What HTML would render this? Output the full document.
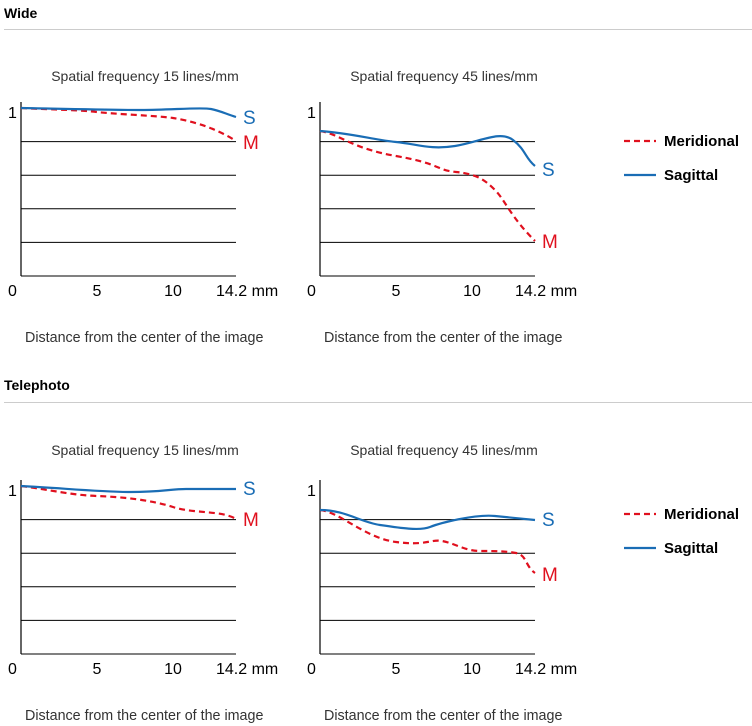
<!DOCTYPE html>
<html><head><style>
body{margin:0;background:#fff;}
svg{display:block;font-family:"Liberation Sans",Arial,sans-serif;}
</style></head><body>
<svg width="752" height="726" xmlns="http://www.w3.org/2000/svg">
<defs>
<g id="axes">
<line x1="0" y1="33.6" x2="215" y2="33.6" stroke="#000" stroke-width="1"/>
<line x1="0" y1="67.2" x2="215" y2="67.2" stroke="#000" stroke-width="1"/>
<line x1="0" y1="100.8" x2="215" y2="100.8" stroke="#000" stroke-width="1"/>
<line x1="0" y1="134.4" x2="215" y2="134.4" stroke="#000" stroke-width="1"/>
<line x1="0" y1="168" x2="215" y2="168" stroke="#000" stroke-width="1"/>
<line x1="0" y1="-6" x2="0" y2="168" stroke="#000" stroke-width="1.2"/>
<text x="-13" y="10" font-size="16">1</text>
<text x="-13" y="188" font-size="16">0</text>
<text x="76" y="188" font-size="16" text-anchor="middle">5</text>
<text x="152" y="188" font-size="16" text-anchor="middle">10</text>
<text x="195" y="188" font-size="16">14.2 mm</text>
<text x="4" y="234" font-size="14.3" fill="#333">Distance from the center of the image</text>
</g>
</defs>
<text x="4" y="18" font-size="14" font-weight="bold">Wide</text>
<line x1="4" y1="29.5" x2="752" y2="29.5" stroke="#ccc"/>
<text x="4" y="390" font-size="14" font-weight="bold">Telephoto</text>
<line x1="4" y1="402.5" x2="752" y2="402.5" stroke="#ccc"/>

<g font-size="14" fill="#333" text-anchor="middle">
<text x="145" y="81">Spatial frequency 15 lines/mm</text>
<text x="444" y="81">Spatial frequency 45 lines/mm</text>
<text x="145" y="455">Spatial frequency 15 lines/mm</text>
<text x="444" y="455">Spatial frequency 45 lines/mm</text>
</g>

<!-- Wide 15 -->
<g transform="translate(21,108)">
<use href="#axes"/>
<path d="M0,0 C40,2 60,2 76,4 S140,8 152,10 S190,17 215,33" fill="none" stroke="#e0101e" stroke-width="2.2" stroke-dasharray="6,4"/>
<path d="M0,0 C50,1 90,2 120,2 S180,-1 190,1 S205,6 215,9" fill="none" stroke="#1a6db5" stroke-width="2.2"/>
<text x="222" y="16" font-size="19" fill="#1a6db5">S</text>
<text x="222" y="41" font-size="19" fill="#e0101e">M</text>
</g>
<!-- Wide 45 -->
<g transform="translate(320,108)">
<use href="#axes"/>
<path d="M0,23 C20,26 30,40 76,48 S115,62 136,64 S165,72 175,82 S190,108 215,133" fill="none" stroke="#e0101e" stroke-width="2.2" stroke-dasharray="6,4"/>
<path d="M0,23 C30,25 55,32 76,34 S110,42 135,38 S180,22 193,32 S205,50 215,58" fill="none" stroke="#1a6db5" stroke-width="2.2"/>
<text x="222" y="68" font-size="19" fill="#1a6db5">S</text>
<text x="222" y="140" font-size="19" fill="#e0101e">M</text>
</g>
<!-- Tele 15 -->
<g transform="translate(21,486)">
<use href="#axes"/>
<path d="M0,0 C30,4 50,9 76,10 S130,14 152,21 S200,24 215,33" fill="none" stroke="#e0101e" stroke-width="2.2" stroke-dasharray="6,4"/>
<path d="M0,0 C40,2 80,6 110,6 S150,3 165,3 L215,3" fill="none" stroke="#1a6db5" stroke-width="2.2"/>
<text x="222" y="9" font-size="19" fill="#1a6db5">S</text>
<text x="222" y="40" font-size="19" fill="#e0101e">M</text>
</g>
<!-- Tele 45 -->
<g transform="translate(320,486)">
<use href="#axes"/>
<path d="M0,24 C20,26 45,52 76,56 S110,53 122,55 S145,65 160,65 S185,65 196,67 S205,80 215,87" fill="none" stroke="#e0101e" stroke-width="2.2" stroke-dasharray="6,4"/>
<path d="M0,24 C25,24 40,36 60,39 S100,45 110,41 S155,28 175,30 S205,33 215,34" fill="none" stroke="#1a6db5" stroke-width="2.2"/>
<text x="222" y="40" font-size="19" fill="#1a6db5">S</text>
<text x="222" y="95" font-size="19" fill="#e0101e">M</text>
</g>

<!-- Legends -->
<g font-size="15" font-weight="bold">
<line x1="624" y1="141" x2="656" y2="141" stroke="#e0101e" stroke-width="2.2" stroke-dasharray="6,4"/>
<text x="664" y="146">Meridional</text>
<line x1="624" y1="175" x2="656" y2="175" stroke="#1a6db5" stroke-width="2.2"/>
<text x="664" y="180">Sagittal</text>
<line x1="624" y1="514" x2="656" y2="514" stroke="#e0101e" stroke-width="2.2" stroke-dasharray="6,4"/>
<text x="664" y="519">Meridional</text>
<line x1="624" y1="548" x2="656" y2="548" stroke="#1a6db5" stroke-width="2.2"/>
<text x="664" y="553">Sagittal</text>
</g>
</svg>
</body></html>
